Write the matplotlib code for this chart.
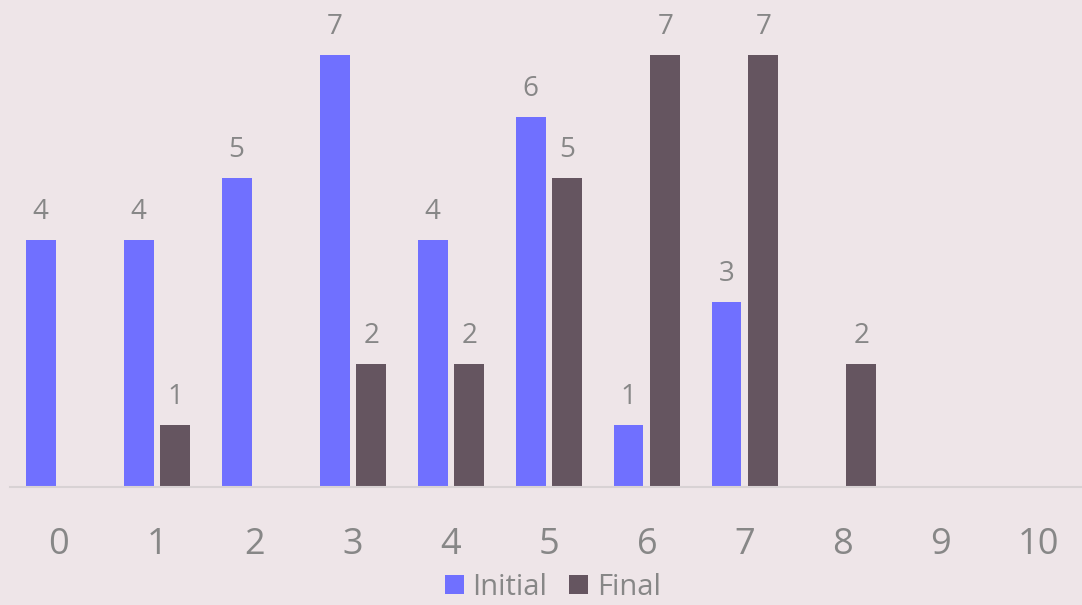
import matplotlib.pyplot as plt
import numpy as np

# data
categories = [0, 1, 2, 3, 4, 5, 6, 7, 8, 9, 10]
initial = [4, 4, 5, 7, 4, 6, 1, 3, 0, 0, 0]
final = [0, 1, 0, 2, 2, 5, 7, 7, 2, 0, 0]

BG = "#EEE5E8"
C_INIT = "#7070FF"
C_FINAL = "#655560"
TXT = "#878787"

plt.rcParams["font.family"] = ["Open Sans", "DejaVu Sans"]

fig = plt.figure(figsize=(10.82, 6.05), dpi=100, facecolor=BG)
ax = fig.add_axes([10 / 1082, 118 / 605, 1 - 10 / 1082, 487 / 605])
ax.set_facecolor(BG)

x = np.array(categories)
w = 0.306
off = 0.188
b1 = ax.bar(x - off, initial, w, color=C_INIT, label="Initial")
b2 = ax.bar(x + off, final, w, color=C_FINAL, label="Final")

for bars, vals in [(b1, initial), (b2, final)]:
    for bar, v in zip(bars, vals):
        if v == 0:
            continue
        ax.annotate(str(v), (bar.get_x() + bar.get_width() / 2, v),
                    xytext=(0, 10), textcoords="offset points",
                    ha="center", va="bottom", fontsize=20, color=TXT)

ax.set_xlim(-0.5, 10.44)
ax.set_ylim(0, 7.89)
ax.set_xticks(categories)
ax.set_xticklabels([str(c) for c in categories], fontsize=26, color=TXT)
ax.tick_params(axis="x", length=0, pad=29)
ax.set_yticks([])
for s in ["top", "right", "left"]:
    ax.spines[s].set_visible(False)
ax.spines["bottom"].set_color("#D8D2D4")
ax.spines["bottom"].set_linewidth(1.5)

leg = fig.legend(loc="lower center", bbox_to_anchor=(0.511, -0.038), ncol=2,
                 frameon=False, fontsize=21, handlelength=0.65, handleheight=0.65,
                 handletextpad=0.3, columnspacing=0.75)
for t in leg.get_texts():
    t.set_color(TXT)

fig.savefig("out.png", dpi=100, facecolor=BG)
